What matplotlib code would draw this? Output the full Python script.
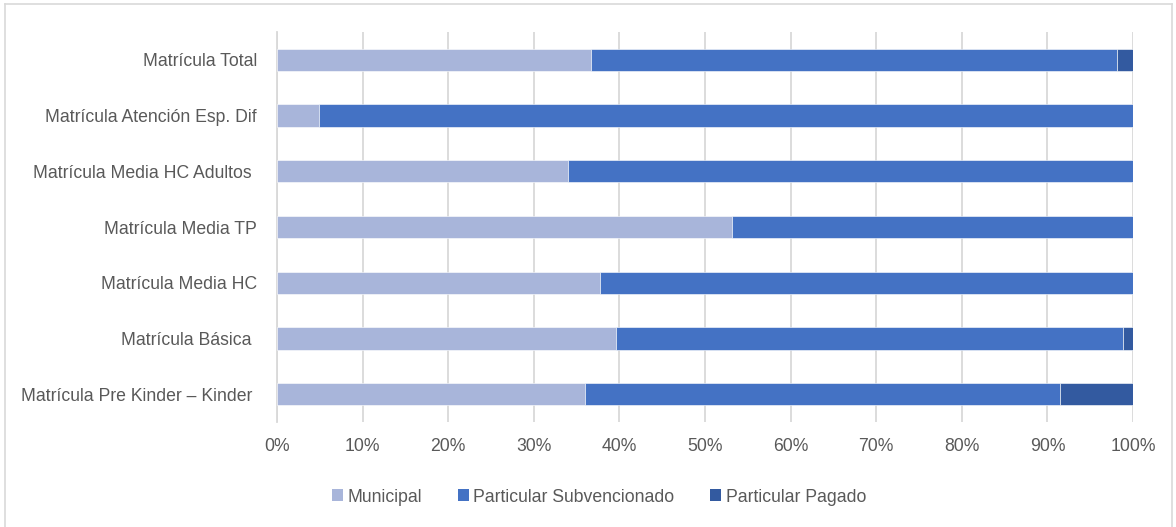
import matplotlib.pyplot as plt
import numpy as np
from matplotlib.lines import Line2D
from matplotlib.patches import Patch

# datos (porcentajes)
categorias = [
    'Matrícula Pre Kinder – Kinder ',
    'Matrícula Básica ',
    'Matrícula Media HC',
    'Matrícula Media TP',
    'Matrícula Media HC Adultos ',
    'Matrícula Atención Esp. Dif',
    'Matrícula Total',
]
municipal = [36.0, 39.6, 37.7, 53.1, 34.0, 4.9, 36.7]
subvencionado = [55.5, 59.2, 62.3, 46.9, 66.0, 95.1, 61.4]
pagado = [8.5, 1.2, 0.0, 0.0, 0.0, 0.0, 1.9]
series = ['Municipal', 'Particular Subvencionado', 'Particular Pagado']
colores = ['#A8B5DA', '#4472C4', '#335AA0']
ticks_x = np.arange(0, 101, 10)

fuente = ['Liberation Sans Narrow', 'Liberation Sans', 'DejaVu Sans']
gris_texto = '#595959'
tam = 12.7

fig = plt.figure(figsize=(11.76, 5.27), dpi=100)
ax = fig.add_axes([277 / 1176, 1 - 422 / 527, (1133 - 277) / 1176, (422 - 32) / 527])

y = np.arange(len(categorias))
izq = np.zeros(len(categorias))
for valores, nombre, color in zip([municipal, subvencionado, pagado], series, colores):
    ax.barh(y, valores, left=izq, height=0.4, color=color, label=nombre,
            edgecolor='white', linewidth=0.4, zorder=3)
    izq = izq + np.array(valores)

ax.set_xlim(0, 100)
ax.set_ylim(-0.5, len(categorias) - 0.5)
ax.set_xticks(ticks_x)
ax.set_xticklabels([f'{t}%' for t in ticks_x])
ax.set_yticks(y)
ax.set_yticklabels(categorias)
ax.grid(axis='x', color='#D9D9D9', linewidth=1.3, zorder=0)
for s in ['top', 'right', 'bottom']:
    ax.spines[s].set_visible(False)
ax.spines['left'].set_color('#D9D9D9')
ax.spines['left'].set_linewidth(1.3)
ax.tick_params(axis='both', length=0, colors=gris_texto, labelsize=tam)
ax.tick_params(axis='y', pad=14.5)
ax.tick_params(axis='x', pad=11.5)
for lbl in ax.get_xticklabels() + ax.get_yticklabels():
    lbl.set_family(fuente)

handles = [Patch(facecolor=c, edgecolor='none') for c in colores]
leg = fig.legend(handles, series, loc='center', bbox_to_anchor=(599 / 1176, 1 - 497 / 527),
                 ncol=3, frameon=False, handlelength=0.65, handleheight=0.65,
                 handletextpad=0.25, columnspacing=2.0,
                 prop={'family': fuente, 'size': tam})
for t in leg.get_texts():
    t.set_color(gris_texto)

# borde del area del grafico
borde = dict(color='#D9D9D9', linewidth=1.2, transform=fig.transFigure)
fig.add_artist(Line2D([5 / 1176, 5 / 1176], [0, 1 - 4 / 527], **borde))
fig.add_artist(Line2D([1172 / 1176, 1172 / 1176], [0, 1 - 4 / 527], **borde))
fig.add_artist(Line2D([5 / 1176, 1172 / 1176], [1 - 4 / 527, 1 - 4 / 527], **borde))

fig.savefig('out.png', dpi=100)
